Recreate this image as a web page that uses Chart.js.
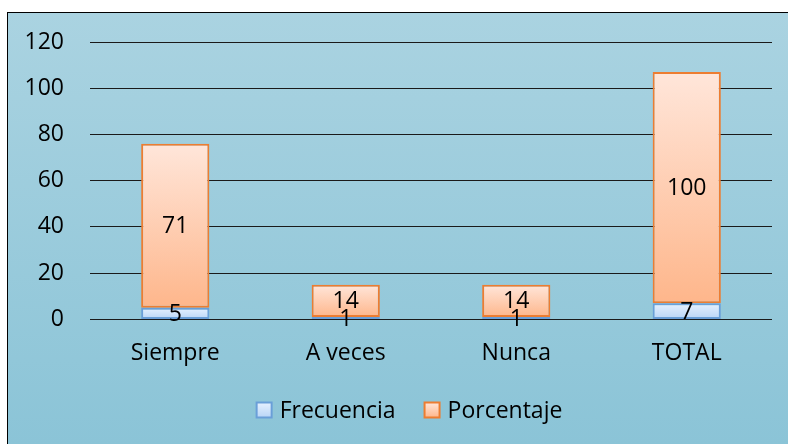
<!DOCTYPE html>
<html>
<head>
<meta charset="utf-8">
<script src="https://cdn.jsdelivr.net/npm/chart.js@4"></script>
<style>
  html, body { margin: 0; padding: 0; background: #ffffff; width: 788px; height: 444px; overflow: hidden; }
  #frame {
    position: absolute; left: 7px; top: 12px; width: 781px; height: 432px;
    border-left: 1px solid #000; border-top: 1px solid #000;
    background: linear-gradient(to bottom, #aad3e1 0%, #8bc4d7 100%);
    box-sizing: border-box;
  }
  #wrap { position: absolute; left: 0px; top: 0px; width: 780px; height: 431px; }
</style>
</head>
<body>
<div id="frame"><div id="wrap"><canvas id="c" width="780" height="431"></canvas></div></div>
<script>
const categories = ["Siempre", "A veces", "Nunca", "TOTAL"];
const frecuencia = [5, 1, 1, 7];
const porcentaje = [71, 14, 14, 100];
const yTicks = [0, 20, 40, 60, 80, 100, 120];
const seriesNames = ["Frecuencia", "Porcentaje"];

const FONT = "'Open Sans', Lato, sans-serif";
const FS = 23;

function barGradient(ctx, light, dark, fallback) {
  const chart = ctx.chart;
  const y = chart.scales && chart.scales.y;
  if (!chart.chartArea || !y || ctx.dataIndex === undefined) return fallback;
  const i = ctx.dataIndex;
  let lo, hi;
  if (ctx.datasetIndex === 0) { lo = 0; hi = frecuencia[i]; }
  else { lo = frecuencia[i]; hi = frecuencia[i] + porcentaje[i]; }
  const top = y.getPixelForValue(hi), bot = y.getPixelForValue(lo);
  const g = chart.ctx.createLinearGradient(0, top, 0, bot);
  g.addColorStop(0, light);
  g.addColorStop(1, dark);
  return g;
}

const labelPlugin = {
  id: 'segLabels',
  afterDatasetsDraw(chart) {
    const c = chart.ctx;
    c.save();
    c.font = FS + "px " + FONT;
    c.fillStyle = "#000";
    c.textAlign = "center";
    c.textBaseline = "middle";
    chart.data.datasets.forEach((ds, di) => {
      const meta = chart.getDatasetMeta(di);
      meta.data.forEach((el, i) => {
        const yy = (el.y + el.base) / 2;
        c.fillText(String(ds.data[i]), el.x, yy + 1);
      });
    });
    c.restore();
  }
};

const legendItems = [
  { fill: ['#e6f1ff', '#b9d5f6'], stroke: '#6a9fd8' },
  { fill: ['#ffe6da', '#feb68b'], stroke: '#ed7d31' }
];

const legendPlugin = {
  id: 'customLegend',
  afterDraw(chart, args, opts) {
    const c = chart.ctx;
    c.save();
    c.font = FS + "px " + FONT;
    c.textBaseline = "middle";
    c.textAlign = "left";
    const box = 15, gap = 8, sep = 29;
    const widths = seriesNames.map(n => box + gap + c.measureText(n).width);
    const total = widths.reduce((a, b) => a + b, 0) + sep * (widths.length - 1);
    let x = opts.centerX - total / 2;
    const y = opts.centerY;
    seriesNames.forEach((n, k) => {
      const it = legendItems[k];
      const g = c.createLinearGradient(0, y - box / 2, 0, y + box / 2);
      g.addColorStop(0, it.fill[0]); g.addColorStop(1, it.fill[1]);
      c.fillStyle = g;
      c.fillRect(x, y - box / 2, box, box);
      c.strokeStyle = it.stroke; c.lineWidth = 2;
      c.strokeRect(x, y - box / 2, box, box);
      c.fillStyle = '#000';
      c.fillText(n, x + box + gap, y + 1);
      x += widths[k] + sep;
    });
    c.restore();
  }
};

new Chart(document.getElementById('c'), {
  type: 'bar',
  data: {
    labels: categories,
    datasets: [
      {
        label: seriesNames[0],
        data: frecuencia,
        backgroundColor: (ctx) => barGradient(ctx, '#e6f1ff', '#b9d5f6', '#d3e5fb'),
        borderColor: '#6a9fd8',
        borderWidth: 2,
        borderSkipped: false,
        barPercentage: 0.8,
        categoryPercentage: 0.5
      },
      {
        label: seriesNames[1],
        data: porcentaje,
        backgroundColor: (ctx) => barGradient(ctx, '#ffe6da', '#feb68b', '#fdd3bd'),
        borderColor: '#ed7d31',
        borderWidth: 2,
        borderSkipped: false,
        barPercentage: 0.8,
        categoryPercentage: 0.5
      }
    ]
  },
  options: {
    responsive: false,
    animation: false,
    layout: { padding: { left: 0, right: 16, top: 29, bottom: 57 } },
    plugins: {
      tooltip: { enabled: false },
      legend: { display: false },
      customLegend: { centerX: 401.5, centerY: 397 }
    },
    scales: {
      x: {
        stacked: true,
        grid: { display: false, drawTicks: false },
        border: { display: false },
        ticks: { color: '#000', font: { family: FONT, size: FS }, padding: 20 }
      },
      y: {
        stacked: true,
        min: 0,
        max: 120,
        afterBuildTicks(s) { s.ticks = yTicks.map(v => ({ value: v })); },
        grid: { color: '#1a1a1a', lineWidth: 1, drawTicks: false },
        border: { display: false },
        ticks: { color: '#000', font: { family: FONT, size: FS }, padding: 26 },
        afterFit(s) { s.width = 82; s.paddingTop = 0; s.paddingBottom = 0; }
      }
    }
  },
  plugins: [labelPlugin, legendPlugin]
});
</script>
</body>
</html>
